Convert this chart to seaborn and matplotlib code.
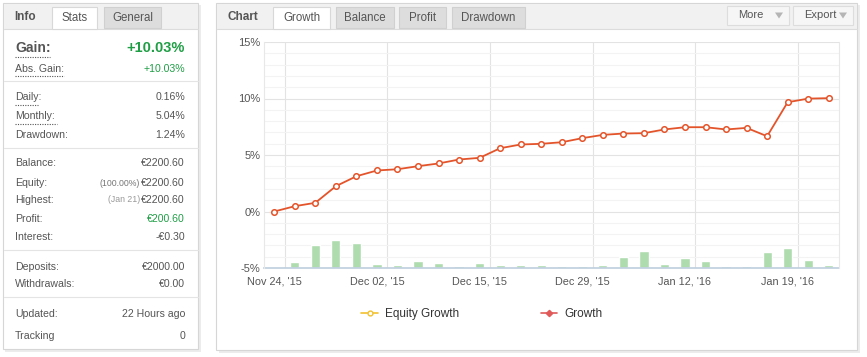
import matplotlib
matplotlib.use("Agg")
import matplotlib.pyplot as plt
import seaborn as sns
from matplotlib.lines import Line2D
from matplotlib.patches import Rectangle, Polygon

# 数据
point_idx = list(range(28))
growth = [0, 0.47, 0.77, 2.24, 3.12, 3.63, 3.74, 4.01, 4.25, 4.6, 4.75, 5.6, 5.93, 5.99,
          6.13, 6.49, 6.78, 6.9, 6.93, 7.26, 7.46, 7.46, 7.26, 7.4, 6.66, 9.67, 9.99, 10.03]
volume = [0, 0.55, 2.06, 2.47, 2.23, 0.38, 0.3, 0.6, 0.46, 0.22, 0.46, 0.25, 0.25, 0.23,
          0.2, 0.18, 0.25, 0.97, 1.5, 0.38, 0.88, 0.6, 0.18, 0.18, 1.41, 1.79, 0.7, 0.25]
date_ticks = [0, 5, 10, 15, 20, 25]
date_labels = ["Nov 24, '15", "Dec 02, '15", "Dec 15, '15", "Dec 29, '15", "Jan 12, '16", "Jan 19, '16"]
y_ticks = [-5, 0, 5, 10, 15]
y_labels = ["-5%", "0%", "5%", "10%", "15%"]

info_rows = [
    ("Daily:", "0.16%", 97), ("Monthly:", "5.04%", 116), ("Drawdown:", "1.24%", 135),
    ("Balance:", "€2200.60", 163), ("Interest:", "-€0.30", 237),
    ("Deposits:", "€2000.00", 267), ("Withdrawals:", "€0.00", 284),
    ("Updated:", "22 Hours ago", 314), ("Tracking", "0", 336),
]

LINE_RED = "#e4542b"
BAR_GREEN = "#aedcae"
W, H = 867, 357

sns.set_theme(style="white")
plt.rcParams["font.family"] = ["Liberation Sans", "DejaVu Sans"]

fig = plt.figure(figsize=(W / 100, H / 100), dpi=100)
fig.patch.set_facecolor("white")

# 背景层：像素坐标
bg = fig.add_axes([0, 0, 1, 1])
bg.set_xlim(0, W)
bg.set_ylim(H, 0)
bg.axis("off")


def box(x0, y0, x1, y1, fc, ec="none", lw=0.8, z=1):
    bg.add_patch(Rectangle((x0, y0), x1 - x0, y1 - y0, facecolor=fc, edgecolor=ec, linewidth=lw, zorder=z))


# 面板阴影与边框
box(5, 5, 201, 352, "#ececec", z=0)
box(3, 3, 198, 349, "white", "#d6d6d6")
box(219, 5, 860, 353, "#ececec", z=0)
box(216, 3, 857, 350, "white", "#d6d6d6")

# 标题栏
box(4, 4, 197.5, 28.5, "#f1f1f1", z=2)
box(217, 4, 856.5, 28.5, "#f1f1f1", z=2)
bg.plot([4, 197.5], [28.5, 28.5], color="#dcdcdc", lw=0.8, zorder=3)
bg.plot([217, 856.5], [28.5, 28.5], color="#dcdcdc", lw=0.8, zorder=3)

# 左侧标签页
bg.text(14, 17, "Info", fontsize=8.5, fontweight="bold", color="#555555", va="center", zorder=5)
box(52, 7, 97, 29, "white", "#d8d8d8", z=4)
bg.text(74.5, 18, "Stats", fontsize=8.3, color="#555555", ha="center", va="center", zorder=5)
box(104, 7, 161, 28, "#dddddd", "#d0d0d0", z=4)
bg.text(132.5, 18, "General", fontsize=8.3, color="#555555", ha="center", va="center", zorder=5)

# 右侧标签页
bg.text(228, 17, "Chart", fontsize=8.5, fontweight="bold", color="#555555", va="center", zorder=5)
box(273, 7, 330, 29, "white", "#d8d8d8", z=4)
bg.text(301.5, 18, "Growth", fontsize=8.3, color="#555555", ha="center", va="center", zorder=5)
for x0, x1, name in [(336, 394, "Balance"), (399, 446, "Profit"), (452, 525, "Drawdown")]:
    box(x0, 7, x1, 28, "#dddddd", "#d0d0d0", z=4)
    bg.text((x0 + x1) / 2, 18, name, fontsize=8.3, color="#555555", ha="center", va="center", zorder=5)

# 按钮
for x0, x1, name in [(727, 789, "More"), (793, 853, "Export")]:
    box(x0, 6, x1, 25, "#f6f6f6", "#dddddd", z=4)
    bg.text(x0 + 11, 15.5, name, fontsize=8, color="#555555", va="center", zorder=5)
    tx = x1 - 10
    bg.add_patch(Polygon([[tx - 4, 12.5], [tx + 4, 12.5], [tx, 18.5]], closed=True,
                         facecolor="#b5b5b5", edgecolor="none", zorder=5))

# 左侧统计信息
LX, RX = 15, 185
bg.text(LX, 48, "Gain:", fontsize=10, fontweight="bold", color="#555555", va="center", zorder=5)
bg.text(RX, 48, "+10.03%", fontsize=10.5, fontweight="bold", color="#1f9e45", ha="right", va="center", zorder=5)
bg.text(LX, 69, "Abs. Gain:", fontsize=7.6, color="#555555", va="center", zorder=5)
bg.text(RX, 69, "+10.03%", fontsize=7.6, color="#1f9e45", ha="right", va="center", zorder=5)
for label, value, y in info_rows:
    bg.text(LX, y, label, fontsize=7.6, color="#555555", va="center", zorder=5)
    bg.text(RX, y, value, fontsize=7.6, color="#555555", ha="right", va="center", zorder=5)

bg.text(LX, 183, "Equity:", fontsize=7.6, color="#555555", va="center", zorder=5)
bg.text(RX, 183, "€2200.60", fontsize=7.6, color="#555555", ha="right", va="center", zorder=5)
bg.text(140, 183, "(100.00%)", fontsize=6.3, color="#777777", ha="right", va="center", zorder=5)
bg.text(LX, 200, "Highest:", fontsize=7.6, color="#555555", va="center", zorder=5)
bg.text(RX, 200, "€2200.60", fontsize=7.6, color="#555555", ha="right", va="center", zorder=5)
bg.text(140, 200, "(Jan 21)", fontsize=6.3, color="#999999", ha="right", va="center", zorder=5)
bg.text(LX, 219, "Profit:", fontsize=7.6, color="#555555", va="center", zorder=5)
bg.text(RX, 219, "€200.60", fontsize=7.6, color="#1f9e45", ha="right", va="center", zorder=5)

# 虚线下划线
for x1, y in [(50, 57), (64, 76), (38, 105), (57, 124)]:
    bg.plot([LX, x1], [y, y], color="#555555", lw=0.8, ls=(0, (1, 1.2)), zorder=5)

# 分隔线
for y in [81, 148, 250, 297]:
    bg.plot([4, 197.5], [y, y], color="#e4e4e4", lw=0.8, zorder=3)

# 图表区域
ax_l, ax_r, ax_t, ax_b = 264, 839, 42, 268
rect = [ax_l / W, 1 - ax_b / H, (ax_r - ax_l) / W, (ax_b - ax_t) / H]
ax_bar = fig.add_axes(rect)
ax = fig.add_axes(rect)

# 柱状图（底层）
sns.barplot(x=point_idx, y=volume, ax=ax_bar, color=BAR_GREEN, saturation=1, width=0.45)
ax_bar.set_ylim(0, 20)
ax_bar.set_xlim(-0.5, 27.5)
ax_bar.set_yticks([0, 5, 10, 15, 20])
ax_bar.set_yticks([v for v in range(1, 20) if v % 5], minor=True)
ax_bar.set_xticks([t + 0.5 for t in date_ticks])
ax_bar.grid(True, which="major", color="#e3e3e3", lw=0.8)
ax_bar.grid(True, which="minor", axis="y", color="#f3f3f3", lw=0.8)
ax_bar.tick_params(which="both", length=0, labelleft=False, labelbottom=False)
ax_bar.set_xlabel("")
ax_bar.set_ylabel("")
ax_bar.set_axisbelow(True)
for s in ["top", "right", "left"]:
    ax_bar.spines[s].set_visible(False)
ax_bar.spines["bottom"].set_color("#c0d0e0")

# 增长曲线
ax.patch.set_visible(False)
sns.lineplot(x=point_idx, y=growth, ax=ax, color=LINE_RED, linewidth=1.3, marker="o",
             markersize=4, markerfacecolor="white", markeredgecolor=LINE_RED, markeredgewidth=1.1)
ax.set_xlim(-0.5, 27.5)
ax.set_ylim(-5, 15)
ax.set_xticks(date_ticks)
ax.set_xticklabels(date_labels, fontsize=7.8, color="#555555")
ax.set_yticks(y_ticks)
ax.set_yticklabels(y_labels, fontsize=8, color="#555555")
ax.tick_params(axis="x", length=0, pad=6)
ax.tick_params(axis="y", length=0, pad=2.5)
for s in ["top", "bottom"]:
    ax.spines[s].set_visible(False)
for s in ["left", "right"]:
    ax.spines[s].set_color("#e8e8e8")
    ax.spines[s].set_linewidth(0.8)

# 图例
handles = [
    Line2D([], [], color="#f2c12e", lw=1.2, marker="o", markersize=3.5,
           markerfacecolor="white", markeredgecolor="#f2c12e", label="Equity Growth"),
    Line2D([], [], color="#e05a5a", lw=1.2, marker="D", markersize=3.2,
           markerfacecolor="#e05a5a", markeredgecolor="#e05a5a", label="Growth"),
]
ax.legend(handles=handles, loc="center", bbox_to_anchor=(0.379, -0.205), ncol=2, frameon=False,
          fontsize=8.5, handlelength=1.4, handletextpad=0.6, columnspacing=6.9, labelcolor="#333333")

fig.savefig("out.png", dpi=100)
